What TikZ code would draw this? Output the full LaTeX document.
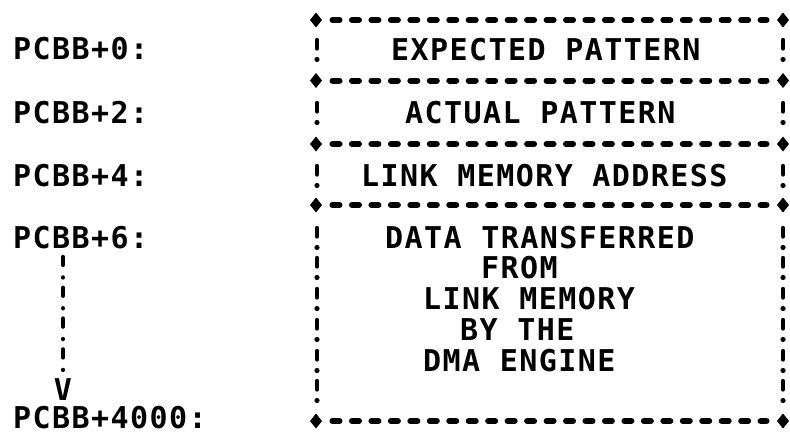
\documentclass[tikz,border=0pt]{standalone}
\usepackage{fontspec}
\newfontfamily\monobold{DejaVu Sans Mono}[LetterSpace=4.8]
\begin{document}
\begin{tikzpicture}[x=1pt,y=-1pt,
  txt/.style={font=\monobold\bfseries\fontsize{30}{30}\selectfont, inner sep=0pt, text height=21.9pt, text depth=0pt, anchor=west},
  hdash/.style={line width=6pt, line cap=round, dash pattern=on 7pt off 12.46pt, shorten <=16.5pt, shorten >=16.5pt},
  bangline/.style={line width=4.4pt, line cap=round, dash pattern=on 8pt off 12.5pt on 0.01pt off 10.3pt},
  bangmark/.pic={\draw[line width=4.4pt, line cap=round] (0,-10) -- (0,-1.5); \fill (0,9.5) circle (2.6pt);},
  cornermark/.pic={\fill (-6,0) -- (0,-7.5) -- (6,0) -- (0,7.5) -- cycle;}
]
\useasboundingbox (0,0) rectangle (790,434);
% box borders
\foreach \i/\y in {0/20,1/80.5,2/144,3/205,4/421} {
  \coordinate (L\i) at (316,\y);
  \coordinate (R\i) at (783,\y);
  \draw[hdash] (L\i) -- (R\i);
  \pic at (L\i) {cornermark};
  \pic at (R\i) {cornermark};
}
% vertical edges
\foreach \y in {50,113,176,238,268,299,330,361,391} {
  \pic at (317,\y) {bangmark};
  \pic at (783,\y) {bangmark};
}
% left labels
\node[txt] (p0) at (13,49) {PCBB+0:};
\node[txt] (p2) at (13,113) {PCBB+2:};
\node[txt] (p4) at (13,176) {PCBB+4:};
\node[txt] (p6) at (13,238) {PCBB+6:};
\node[txt] (p4000) at (13,418) {PCBB+4000:};
\node[txt, anchor=center] (vv) at (63,390) {V};
% box contents
\node[txt] (t1) at (391,50) {EXPECTED PATTERN};
\node[txt] (t2) at (405,113) {ACTUAL PATTERN};
\node[txt] (t3) at (361,176) {LINK MEMORY ADDRESS};
\node[txt] (d1) at (385,238) {DATA TRANSFERRED};
\node[txt] (d2) at (481,268) {FROM};
\node[txt] (d3) at (423,299) {LINK MEMORY};
\node[txt] (d4) at (460,330) {BY THE};
\node[txt] (d5) at (423,361) {DMA ENGINE};
% arrow from PCBB+6 down to PCBB+4000
\draw[bangline, shorten <=7.8pt, shorten >=7pt] (p6.south -| vv.north) -- (vv.north);
\end{tikzpicture}
\end{document}
